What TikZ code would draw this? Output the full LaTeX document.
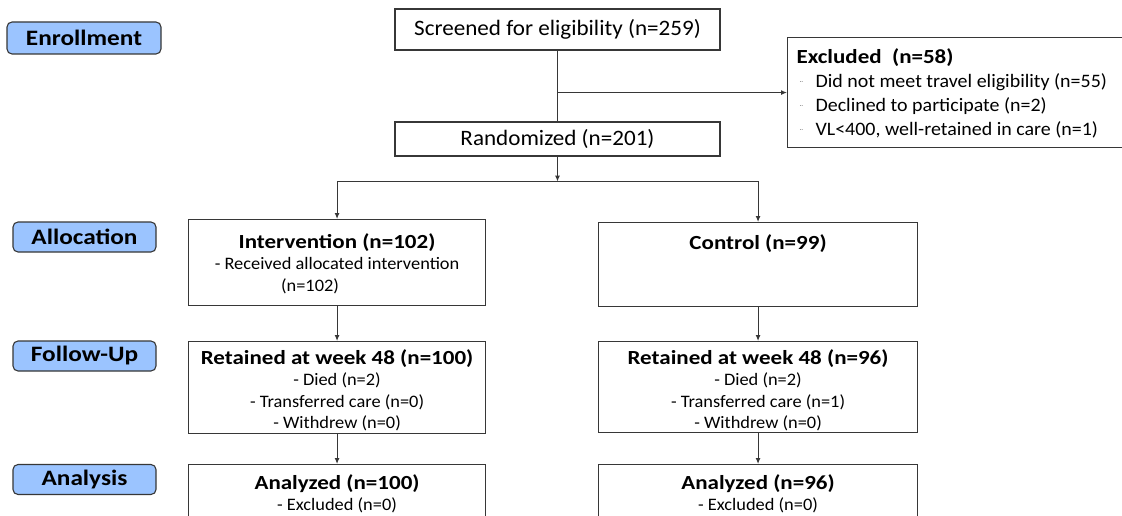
\documentclass[tikz,border=0pt]{standalone}
\usepackage{fontspec}
\setmainfont{Carlito}[FakeStretch=1.05, BoldFeatures={FakeStretch=1.15}]
\usetikzlibrary{arrows.meta}
\usetikzlibrary{calc}
\definecolor{stageblue}{RGB}{155,196,255}
\definecolor{linegray}{RGB}{55,55,55}
\definecolor{dotgray}{RGB}{130,130,130}
% box body: gap above, width, height, text
\newcommand{\boxbody}[4][11pt]{\parbox[t][#3][t]{#2}{\vspace*{#1}\centering #4}}
\newcommand{\hd}[1]{{\bfseries\fontsize{20}{23}\selectfont #1}\\}
\newcommand{\exitem}[1]{\hspace*{3pt}\makebox[16pt][l]{\color{dotgray}\fontsize{9}{9}\selectfont ¨}#1\\}
\tikzset{stage/.style={draw=linegray, fill=stageblue, rounded corners=5pt, line width=1.1pt, minimum width=143pt, minimum height=30pt, inner sep=0pt, font=\bfseries\fontsize{22}{25}\selectfont}}
\tikzset{plainbox/.style={draw=linegray, line width=1.1pt, minimum width=325pt, inner sep=0pt, font=\fontsize{22}{25}\selectfont}}
\tikzset{flowbox/.style={draw=linegray, line width=1.1pt, anchor=north west, inner sep=0pt, font=\fontsize{17.5}{21.5}\selectfont}}
\tikzset{conn/.style={draw=linegray, line width=1.1pt}}
\tikzset{flow/.style={conn, -{Latex[length=6pt,width=5pt]}}}

\begin{document}
\begin{tikzpicture}[x=1pt, y=-1pt]
\clip (0,0) rectangle (1122,516);
\fill[white] (0,0) rectangle (1122,516);

\node[stage, minimum width=154pt, minimum height=32pt] (enroll) at (84,38) {Enrollment};
\node[stage] (alloc) at (84.5,237) {Allocation};
\node[stage] (follow) at (84.5,356) {Follow-Up};
\node[stage] (analysis) at (84.5,479.5) {Analysis};

\node[plainbox, minimum height=41pt] (screen) at (557.5,29.5) {Screened for eligibility (n=259)};
\node[plainbox, minimum height=34pt] (rand) at (557.5,139) {Randomized (n=201)};

\node[flowbox, font=\fontsize{19}{24}\selectfont] (excl) at (787,37) {\parbox[t][110pt][t]{345pt}{\vspace*{11pt}\raggedright\leftskip=9pt
{\bfseries\fontsize{20}{24}\selectfont Excluded\ \ (n=58)}\\
\exitem{Did not meet travel eligibility (n=55)}
\exitem{Declined to participate (n=2)}
\exitem{VL<400, well-retained in care (n=1)}}};

\node[flowbox] (interv) at (188,219) {\boxbody[14pt]{297pt}{86pt}{\hd{Intervention (n=102)}
- Received allocated intervention\\ \hspace*{-54pt}(n=102)}};
\node[flowbox] (ctrl) at (598,222) {\boxbody[12pt]{319pt}{84pt}{\hd{Control (n=99)}}};

\node[flowbox] (retI) at (188,341) {\boxbody[8pt]{297pt}{92pt}{\hd{Retained at week 48 (n=100)}
- Died (n=2)\\ - Transferred care (n=0)\\ - Withdrew (n=0)}};
\node[flowbox] (retC) at (598,341) {\boxbody[8pt]{319pt}{91pt}{\hd{Retained at week 48 (n=96)}
- Died (n=2)\\ - Transferred care (n=1)\\ - Withdrew (n=0)}};

\node[flowbox] (anaI) at (188,464) {\boxbody[10pt]{297pt}{80pt}{\hd{Analyzed (n=100)}
- Excluded (n=0)}};
\node[flowbox] (anaC) at (598,464) {\boxbody[10pt]{319pt}{80pt}{\hd{Analyzed (n=96)}
- Excluded (n=0)}};

\coordinate (branch) at (screen.south |- excl.west);
\coordinate (fork) at ($(rand.south)+(0,25)$);

\draw[conn] (screen.south) -- (rand.north);
\draw[flow] (branch) -- (excl.west);
\draw[flow] (rand.south) -- (fork);
\draw[flow] (fork) -| (interv.north);
\draw[flow] (fork) -| (ctrl.north);
\draw[flow] (interv.south) -- (retI.north);
\draw[flow] (ctrl.south) -- (retC.north);
\draw[flow] (retI.south) -- (anaI.north);
\draw[flow] (retC.south) -- (anaC.north);
\end{tikzpicture}
\end{document}
